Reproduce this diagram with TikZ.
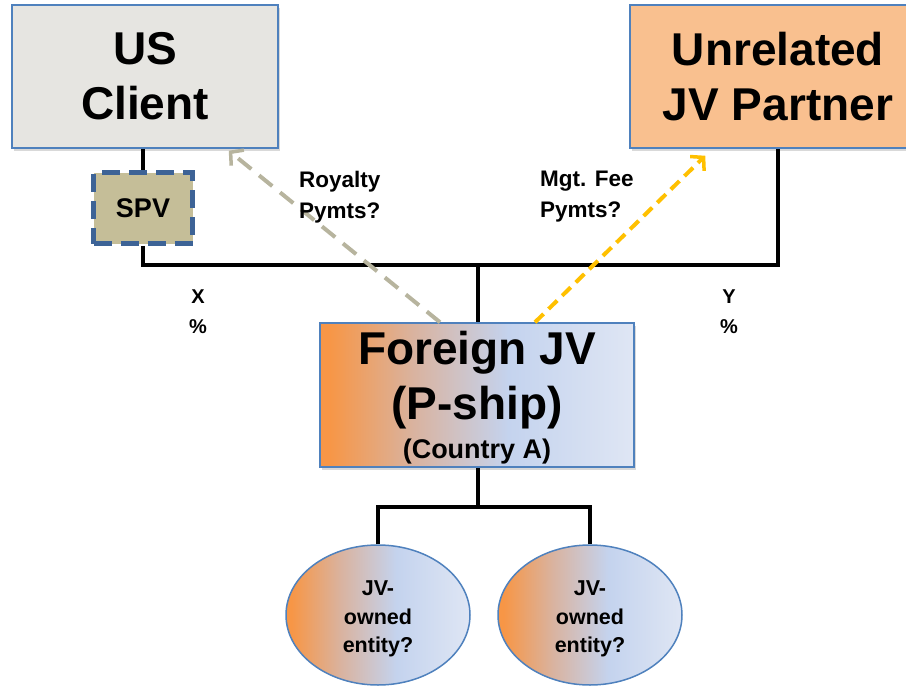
\documentclass[tikz,border=0pt]{standalone}
\usepackage{fontspec}
\setmainfont{Liberation Sans}
\usetikzlibrary{arrows.meta,shadows,shapes.geometric}
\definecolor{bordblue}{HTML}{4F81BD}
\definecolor{clientgray}{HTML}{E6E5E1}
\definecolor{peach}{HTML}{F9C08F}
\definecolor{spvfill}{HTML}{C5BE98}
\definecolor{spvblue}{HTML}{3D6396}
\definecolor{royalgray}{HTML}{B7B49E}
\definecolor{feeyellow}{HTML}{FFC000}
\definecolor{gOrange}{HTML}{F79646}
\definecolor{gTan}{HTML}{D9B3A0}
\definecolor{gBlue}{HTML}{C4D3EE}
\definecolor{gLight}{HTML}{DFE6F4}
\pgfdeclarehorizontalshading{jvshade}{100bp}{color(0bp)=(gOrange); color(25bp)=(gOrange); color(26.5bp)=(gOrange); color(40bp)=(gTan); color(55bp)=(gBlue); color(75bp)=(gLight); color(100bp)=(gLight)}
\tikzset{
  x=1pt, y=-1pt,
  shade/.style={drop shadow={shadow xshift=2pt, shadow yshift=-3pt, opacity=0.3}},
  bigbox/.style={draw=bordblue, line width=1.5pt, minimum width=266pt, minimum height=143pt, align=center, font=\bfseries\fontsize{46}{55}\selectfont, shade},
  link/.style={line width=4pt, black},
  lbl/.style={align=left, font=\bfseries\fontsize{22.5}{31}\selectfont, inner sep=0pt},
  pct/.style={align=center, font=\bfseries\fontsize{20}{30}\selectfont, inner sep=0pt},
  entity/.style={ellipse, draw=bordblue, line width=1.5pt, shading=jvshade, minimum width=184pt, minimum height=140pt, inner sep=0pt},
  entitytext/.style={align=center, font=\bfseries\fontsize{21.5}{28.5}\selectfont, inner sep=0pt},
  payarrow/.style={line width=4pt, -{Straight Barb[length=9pt,width=20pt,line width=3.5pt]}}
}
\begin{document}
\begin{tikzpicture}
\useasboundingbox (0,0) rectangle (906,689);
\clip (0,0) rectangle (906,689);
% top boxes
\node[bigbox, fill=clientgray] (uc) at (145,76.5) {US\\Client};
\node[bigbox, fill=peach, minimum width=296pt] (jvp) at (778,76.5) {Unrelated\\JV Partner};
% SPV
\node[draw=spvblue, fill=spvfill, line width=4.5pt, dash pattern=on 18pt off 9pt, minimum width=99pt, minimum height=71pt, font=\bfseries\fontsize{27}{27}\selectfont] (spv) at (143,208) {SPV};
% foreign JV
\node[draw=bordblue, line width=1.5pt, shading=jvshade, minimum width=314pt, minimum height=144pt, shade, inner sep=0pt] (fjv) at (477,395) {};
\node[align=center, font=\bfseries\fontsize{46}{55}\selectfont, inner sep=0pt] (fjvt) at (477,380) {Foreign JV\\(P-ship)};
\node[font=\bfseries\fontsize{27}{27}\selectfont, inner sep=0pt] (fjvc) at (477,452) {(Country A)};
% entities
\node[entity] (e1) at (378,615) {};
\node[entitytext] (e1t) at (378,619) {JV-\\owned\\entity?};
\node[entity] (e2) at (590,615) {};
\node[entitytext] (e2t) at (590,619) {JV-\\owned\\entity?};
% connectors
\coordinate (bar) at (478,265);
\coordinate (split) at (478,507);
\draw[link] (spv.north |- uc.south) -- (spv.north);
\draw[link] (spv.south) |- (bar);
\draw[link] (jvp.south) |- (bar);
\draw[link] (bar) -- (fjv.north -| bar);
\draw[link] (fjv.south -| split) -- (split);
\draw[link] (e1.north) |- (split);
\draw[link] (e2.north) |- (split);
% payment arrows
\coordinate (r0) at ([xshift=-37pt]fjv.north);
\coordinate (r1) at ([xshift=-50pt,yshift=-2pt]uc.south east);
\coordinate (m0) at ([xshift=58pt]fjv.north);
\coordinate (m1) at ([xshift=76pt,yshift=-7pt]jvp.south west);
\draw[payarrow, royalgray, dash pattern=on 17pt off 10pt] (r0) -- (r1);
\draw[payarrow, feeyellow, dash pattern=on 12pt off 7pt] (m0) -- (m1);
% labels
\node[lbl, anchor=west] (roy) at (299,197) {Royalty\\Pymts?};
\node[lbl, anchor=west] (mgt) at (540,197) {Mgt. Fee\\Pymts?};
\node[pct] (xp) at (198,312) {X\\\%};
\node[pct] (yp) at (729,312) {Y\\\%};
\end{tikzpicture}
\end{document}
